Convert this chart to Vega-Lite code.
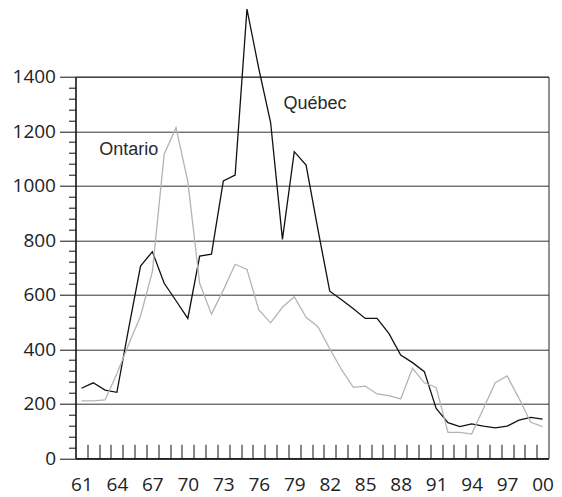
{
  "$schema": "https://vega.github.io/schema/vega-lite/v6.json",
  "width": 473,
  "height": 381.6,
  "autosize": {"type": "none"},
  "padding": {"left": 75.5, "top": 76.7, "right": 13.5, "bottom": 38.7},
  "background": "white",
  "config": {
    "view": {"stroke": "#222", "strokeWidth": 1},
    "axis": {"labelFont": "Open Sans", "labelFontSize": 19, "labelColor": "#222", "domainColor": "#111", "tickColor": "#111", "title": null}
  },
  "datasets": {
    "series": [
      {"year": 1961, "region": "Québec", "value": 257},
      {"year": 1962, "region": "Québec", "value": 277},
      {"year": 1963, "region": "Québec", "value": 250},
      {"year": 1964, "region": "Québec", "value": 242},
      {"year": 1965, "region": "Québec", "value": 478},
      {"year": 1966, "region": "Québec", "value": 705},
      {"year": 1967, "region": "Québec", "value": 758},
      {"year": 1968, "region": "Québec", "value": 642},
      {"year": 1969, "region": "Québec", "value": 578},
      {"year": 1970, "region": "Québec", "value": 513},
      {"year": 1971, "region": "Québec", "value": 742},
      {"year": 1972, "region": "Québec", "value": 749},
      {"year": 1973, "region": "Québec", "value": 1018},
      {"year": 1974, "region": "Québec", "value": 1039},
      {"year": 1975, "region": "Québec", "value": 1648},
      {"year": 1976, "region": "Québec", "value": 1430},
      {"year": 1977, "region": "Québec", "value": 1232},
      {"year": 1978, "region": "Québec", "value": 803},
      {"year": 1979, "region": "Québec", "value": 1125},
      {"year": 1980, "region": "Québec", "value": 1076},
      {"year": 1981, "region": "Québec", "value": 840},
      {"year": 1982, "region": "Québec", "value": 613},
      {"year": 1983, "region": "Québec", "value": 582},
      {"year": 1984, "region": "Québec", "value": 549},
      {"year": 1985, "region": "Québec", "value": 513},
      {"year": 1986, "region": "Québec", "value": 513},
      {"year": 1987, "region": "Québec", "value": 458},
      {"year": 1988, "region": "Québec", "value": 379},
      {"year": 1989, "region": "Québec", "value": 351},
      {"year": 1990, "region": "Québec", "value": 318},
      {"year": 1991, "region": "Québec", "value": 183},
      {"year": 1992, "region": "Québec", "value": 131},
      {"year": 1993, "region": "Québec", "value": 116},
      {"year": 1994, "region": "Québec", "value": 126},
      {"year": 1995, "region": "Québec", "value": 118},
      {"year": 1996, "region": "Québec", "value": 112},
      {"year": 1997, "region": "Québec", "value": 118},
      {"year": 1998, "region": "Québec", "value": 140},
      {"year": 1999, "region": "Québec", "value": 150},
      {"year": 2000, "region": "Québec", "value": 144},
      {"year": 1961, "region": "Ontario", "value": 211},
      {"year": 1962, "region": "Ontario", "value": 211},
      {"year": 1963, "region": "Ontario", "value": 214},
      {"year": 1964, "region": "Ontario", "value": 310},
      {"year": 1965, "region": "Ontario", "value": 418},
      {"year": 1966, "region": "Ontario", "value": 522},
      {"year": 1967, "region": "Ontario", "value": 685},
      {"year": 1968, "region": "Ontario", "value": 1116},
      {"year": 1969, "region": "Ontario", "value": 1213},
      {"year": 1970, "region": "Ontario", "value": 1015},
      {"year": 1971, "region": "Ontario", "value": 642},
      {"year": 1972, "region": "Ontario", "value": 529},
      {"year": 1973, "region": "Ontario", "value": 617},
      {"year": 1974, "region": "Ontario", "value": 712},
      {"year": 1975, "region": "Ontario", "value": 693},
      {"year": 1976, "region": "Ontario", "value": 544},
      {"year": 1977, "region": "Ontario", "value": 497},
      {"year": 1978, "region": "Ontario", "value": 554},
      {"year": 1979, "region": "Ontario", "value": 593},
      {"year": 1980, "region": "Ontario", "value": 517},
      {"year": 1981, "region": "Ontario", "value": 483},
      {"year": 1982, "region": "Ontario", "value": 402},
      {"year": 1983, "region": "Ontario", "value": 325},
      {"year": 1984, "region": "Ontario", "value": 260},
      {"year": 1985, "region": "Ontario", "value": 265},
      {"year": 1986, "region": "Ontario", "value": 236},
      {"year": 1987, "region": "Ontario", "value": 230},
      {"year": 1988, "region": "Ontario", "value": 218},
      {"year": 1989, "region": "Ontario", "value": 330},
      {"year": 1990, "region": "Ontario", "value": 277},
      {"year": 1991, "region": "Ontario", "value": 260},
      {"year": 1992, "region": "Ontario", "value": 95},
      {"year": 1993, "region": "Ontario", "value": 95},
      {"year": 1994, "region": "Ontario", "value": 89},
      {"year": 1995, "region": "Ontario", "value": 183},
      {"year": 1996, "region": "Ontario", "value": 277},
      {"year": 1997, "region": "Ontario", "value": 302},
      {"year": 1998, "region": "Ontario", "value": 220},
      {"year": 1999, "region": "Ontario", "value": 132},
      {"year": 2000, "region": "Ontario", "value": 116}
    ],
    "labels": [
      {"year": 1965, "value": 1113, "label": "Ontario"},
      {"year": 1980.75, "value": 1281, "label": "Québec"}
    ]
  },
  "resolve": {"axis": {"x": "independent", "y": "independent"}},
  "layer": [
    {
      "data": {"name": "series"},
      "mark": {"type": "line", "strokeWidth": 1.3, "clip": false},
      "encoding": {
        "x": {"field": "year", "type": "quantitative",
          "scale": {"domain": [1960.5, 2000.5], "nice": false, "zero": false},
          "axis": {"orient": "bottom", "values": [1961.5,1962.5,1963.5,1964.5,1965.5,1966.5,1967.5,1968.5,1969.5,1970.5,1971.5,1972.5,1973.5,1974.5,1975.5,1976.5,1977.5,1978.5,1979.5,1980.5,1981.5,1982.5,1983.5,1984.5,1985.5,1986.5,1987.5,1988.5,1989.5,1990.5,1991.5,1992.5,1993.5,1994.5,1995.5,1996.5,1997.5,1998.5,1999.5],
            "labels": false, "tickSize": -14, "tickWidth": 1, "grid": false, "domain": true, "domainWidth": 1.2}},
        "y": {"field": "value", "type": "quantitative",
          "scale": {"domain": [0, 1400], "nice": false},
          "axis": {"orient": "left", "values": [0,200,400,600,800,1000,1200,1400], "format": "d", "tickSize": 16, "tickWidth": 1, "labelPadding": 4, "grid": true, "gridColor": "#333", "gridWidth": 1, "gridOpacity": 1, "domain": true, "domainWidth": 1.2}},
        "color": {"field": "region", "type": "nominal",
          "scale": {"domain": ["Québec", "Ontario"], "range": ["#111111", "#b4b4b4"]},
          "legend": null},
        "order": {"field": "year", "type": "quantitative"}
      }
    },
    {
      "data": {"name": "labels"},
      "mark": {"type": "text", "font": "Liberation Sans", "fontSize": 18, "color": "#2a2a2a", "align": "center", "baseline": "alphabetic"},
      "encoding": {
        "x": {"field": "year", "type": "quantitative",
          "axis": {"orient": "bottom", "values": [1961,1964,1967,1970,1973,1976,1979,1982,1985,1988,1991,1994,1997,2000],
            "labelExpr": "substring(toString(datum.value), 2, 4)", "ticks": false, "domain": false, "grid": false, "labelPadding": 17, "labelBaseline": "top", "labelFlush": false, "labelOverlap": false}},
        "y": {"field": "value", "type": "quantitative",
          "axis": {"orient": "left", "values": [40,80,120,160,240,280,320,360,440,480,520,560,640,680,720,760,840,880,920,960,1040,1080,1120,1160,1240,1280,1320,1360], "labels": false, "tickSize": 7, "tickWidth": 1, "domain": false, "grid": false}},
        "text": {"field": "label"}
      }
    }
  ]
}
